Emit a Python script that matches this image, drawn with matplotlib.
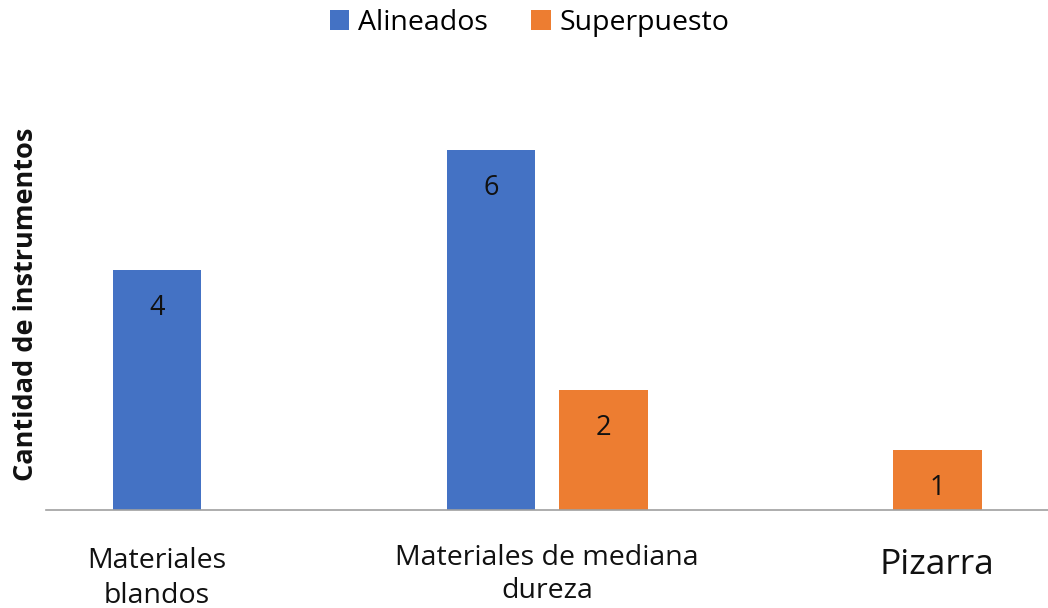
import matplotlib.pyplot as plt
import numpy as np
from matplotlib.transforms import blended_transform_factory

plt.rcParams['font.family'] = ['Open Sans', 'DejaVu Sans']

categories = ['Materiales\nblandos', 'Materiales de mediana\ndureza', 'Pizarra']
alineados = [4, 6, 0]
superpuesto = [0, 2, 1]
series_names = ['Alineados', 'Superpuesto']
colors = ['#4472C4', '#ED7D31']

fig = plt.figure(figsize=(10.48, 6.08), dpi=100)
ax = fig.add_axes([0.044, 0.161, 0.956, 0.691])

x = np.arange(len(categories))
width = 0.266
offset = 0.168

b1 = ax.bar(x - offset, alineados, width, color=colors[0], label=series_names[0])
b2 = ax.bar(x + offset, superpuesto, width, color=colors[1], label=series_names[1])

# value labels inside bars, skip zero bars
for bars, vals in [(b1, alineados), (b2, superpuesto)]:
    for rect, v in zip(bars, vals):
        if v == 0:
            continue
        ax.text(rect.get_x() + rect.get_width() / 2, v - 0.63, str(v),
                ha='center', va='center', fontsize=19.5, color='#111111')

ax.set_xlim(-0.5, 2.5)
ax.set_ylim(0, 7)
ax.set_xticks([])
ax.set_yticks([])
for s in ['top', 'right', 'left']:
    ax.spines[s].set_visible(False)
ax.spines['bottom'].set_color('#A0A0A0')
ax.spines['bottom'].set_linewidth(1.2)

# category labels placed by hand like the original
trans = blended_transform_factory(ax.transData, fig.transFigure)
ax.text(x[0] - offset, 0.049, categories[0], transform=trans, ha='center', va='center',
        fontsize=20.5, color='#111111', linespacing=1.35)
ax.text(x[1], 0.055, categories[1], transform=trans, ha='center', va='center',
        fontsize=20.5, color='#111111', linespacing=1.25)
ax.text(x[2] + offset, 0.071, categories[2], transform=trans, ha='center', va='center',
        fontsize=25.5, color='#111111')

fig.text(0.025, 0.5, 'Cantidad de instrumentos', rotation=90, ha='center', va='center',
         fontsize=19.5, fontweight='bold', color='#111111')

fig.legend(loc='center', bbox_to_anchor=(0.505, 0.962), ncol=2, frameon=False,
           fontsize=20.5, handlelength=0.7, handleheight=0.7, handletextpad=0.3,
           columnspacing=1.5)

fig.savefig('out.png', dpi=100)
